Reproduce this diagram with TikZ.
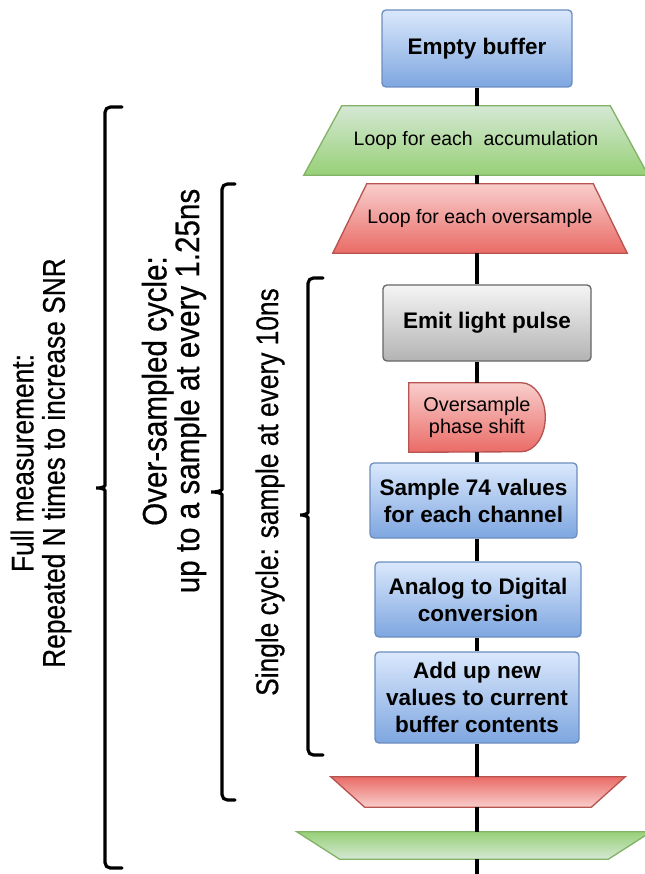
\documentclass[tikz,border=0pt]{standalone}
\usepackage{fontspec}
\setmainfont{Liberation Sans}
\newfontfamily\narrowfont[FakeStretch=0.84, FakeBold=0.5]{Liberation Sans}
\newfontfamily\widernarrowfont[FakeStretch=0.87, FakeBold=0.5]{Liberation Sans}
\usetikzlibrary{calc}

% draw.io style palette
\definecolor{blueT}{HTML}{DAE8FC}\definecolor{blueB}{HTML}{7EA6E0}\definecolor{blueD}{HTML}{6C8EBF}
\definecolor{greenT}{HTML}{D5E8D4}\definecolor{greenB}{HTML}{97D077}\definecolor{greenD}{HTML}{82B366}
\definecolor{redT}{HTML}{F8CECC}\definecolor{redB}{HTML}{EA6B66}\definecolor{redD}{HTML}{B85450}
\definecolor{grayT}{HTML}{F5F5F5}\definecolor{grayB}{HTML}{B3B3B3}\definecolor{grayD}{HTML}{666666}

\tikzset{
  frame/.style={inner sep=0pt, align=center, text=black},
  boldtxt/.style={font=\bfseries\fontsize{16.9}{20.3}\selectfont},
  looptxt/.style={font=\fontsize{14.6}{17}\selectfont},
  bluebox/.style={frame, boldtxt, rounded corners=3pt, draw=blueD, line width=1pt,
    top color=blueT, bottom color=blueB},
  graybox/.style={frame, boldtxt, rounded corners=3pt, draw=grayD, line width=1pt,
    top color=grayT, bottom color=grayB},
  flow/.style={line width=2.3pt, black},
  brace/.style={line width=2.4pt, black, line cap=round, rounded corners=4pt},
  sidetxt/.style={rotate=90, align=center, font=\narrowfont\fontsize{23.5}{23.5}\selectfont},
  bigsidetxt/.style={rotate=90, align=center, font=\widernarrowfont\fontsize{25.5}{24.5}\selectfont},
}

\begin{document}
\begin{tikzpicture}[x=0.75pt, y=-0.75pt]
\useasboundingbox (0,0) rectangle (644,874);

% ---- flow chart nodes -------------------------------------------------
\node[bluebox, minimum width=190*0.75pt, minimum height=77*0.75pt] (empty) at (477,48.5) {Empty buffer};

\node[frame, looptxt, minimum width=344*0.75pt, minimum height=69*0.75pt] (acc) at (476,140.5) {};
\path[draw=greenD, line width=1pt, top color=greenT, bottom color=greenB]
  ($(acc.north west)+(38,0)$) -- ($(acc.north east)+(-38,0)$) -- (acc.south east) -- (acc.south west) -- cycle;
\node[frame, looptxt] at (acc.center) {Loop for each \ accumulation};

\node[frame, looptxt, minimum width=294*0.75pt, minimum height=69*0.75pt] (ovs) at (480,218.5) {};
\path[draw=redD, line width=1pt, top color=redT, bottom color=redB]
  ($(ovs.north west)+(34,0)$) -- ($(ovs.north east)+(-34,0)$) -- (ovs.south east) -- (ovs.south west) -- cycle;
\node[frame, looptxt] at (ovs.center) {Loop for each oversample};

\node[graybox, minimum width=208*0.75pt, minimum height=76*0.75pt] (emit) at (487,323) {Emit light pulse};

% delay shape: flat left side, rounded right side
\node[frame, minimum width=136*0.75pt, minimum height=69*0.75pt] (shift) at (477,417.5) {};
\path[draw=redD, line width=1pt, top color=redT, bottom color=redB]
  (shift.south west) -- (shift.north west) -- ($(shift.north east)+(-24,0)$)
  arc[start angle=-90, end angle=90, x radius=24, y radius=34.5] -- cycle;
\node[frame, font=\fontsize{14.9}{16.5}\selectfont] at (shift.center) {Oversample\\phase shift};

\node[bluebox, minimum width=207*0.75pt, minimum height=75*0.75pt] (sample) at (473.5,500.5) {Sample 74 values\\for each channel};
\node[bluebox, minimum width=206*0.75pt, minimum height=75*0.75pt] (adc) at (478,599.5) {Analog to Digital\\conversion};
\node[bluebox, minimum width=204*0.75pt, minimum height=91*0.75pt] (add) at (477,697.5) {Add up new\\values to current\\buffer contents};

\node[frame, minimum width=294*0.75pt, minimum height=30*0.75pt] (ovsend) at (478,792) {};
\path[draw=redD, line width=1pt, top color=redB, bottom color=redT]
  (ovsend.north west) -- (ovsend.north east) -- ($(ovsend.south east)+(-34,0)$) -- ($(ovsend.south west)+(34,0)$) -- cycle;

\node[frame, minimum width=354*0.75pt, minimum height=27*0.75pt] (accend) at (474,845.5) {};
\path[draw=greenD, line width=1pt, top color=greenB, bottom color=greenT]
  (accend.north west) -- (accend.north east) -- ($(accend.south east)+(-43,0)$) -- ($(accend.south west)+(43,0)$) -- cycle;

\coordinate (tail) at (477,874);

% ---- connectors ---------------------------------------------------------
\draw[flow] (empty.south) -- (empty.south |- acc.north);
\draw[flow] (empty.south |- acc.south) -- (empty.south |- ovs.north);
\draw[flow] (empty.south |- ovs.south) -- (empty.south |- emit.north);
\draw[flow] (empty.south |- emit.south) -- (shift.north);
\draw[flow] (shift.south) -- (shift.south |- sample.north);
\draw[flow] (shift.south |- sample.south) -- (shift.south |- adc.north);
\draw[flow] (shift.south |- adc.south) -- (add.north);
\draw[flow] (add.south) -- (add.south |- ovsend.north);
\draw[flow] (add.south |- ovsend.south) -- (add.south |- accend.north);
\draw[flow] (add.south |- accend.south) -- (tail);

% ---- scope brackets -----------------------------------------------------
\draw[brace] (122,107) -- (105,107) -- (105,480)
  .. controls (105,487) and (100,488) .. (93,488)
  .. controls (100,488) and (105,489) .. (105,496) -- (105,868) -- (122,868);
\draw[brace] (235,184) -- (222,184) -- (222,484)
  .. controls (222,491) and (215,492) .. (208,492)
  .. controls (215,492) and (222,493) .. (222,500) -- (222,800) -- (235,800);
\draw[brace] (323,278) -- (308,278) -- (308,507)
  .. controls (308,514) and (302,515) .. (297,515)
  .. controls (302,515) and (308,516) .. (308,523) -- (308,755) -- (323,755);

% ---- bracket labels -----------------------------------------------------
\node[sidetxt] (fulltxt) at (41,463) {Full measurement:\\Repeated N times to increase SNR};
\node[bigsidetxt] (overtxt) at (174,391) {Over-sampled cycle:\\up to a sample at every 1.25ns};
\node[sidetxt] (singletxt) at (270,492) {Single cycle: sample at every 10ns};
\end{tikzpicture}
\end{document}
